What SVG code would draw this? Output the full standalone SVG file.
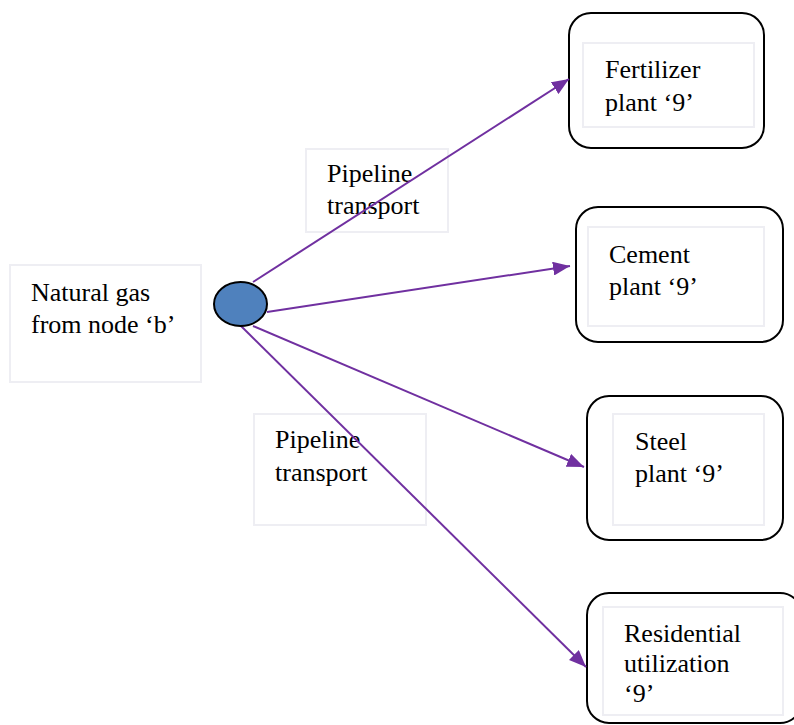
<svg xmlns="http://www.w3.org/2000/svg" width="794" height="725" viewBox="0 0 794 725">
  <style>
    .label { font-family: "Liberation Serif", "Times New Roman", serif; font-size: 26px; fill: #000; }
    .plain { fill: #fff; stroke: #eeeef3; stroke-width: 2; }
    .outer { fill: #fff; stroke: #000; stroke-width: 2; }
    .flow { stroke: #7030a0; stroke-width: 2; fill: none; marker-end: url(#head); }
  </style>
  <defs>
    <marker id="head" markerUnits="userSpaceOnUse" markerWidth="18" markerHeight="14" viewBox="0 0 18 14" refX="17" refY="7" orient="auto">
      <path d="M0,0 L17,7 L0,14 Z" fill="#7030a0"/>
    </marker>
  </defs>
  <rect width="794" height="725" fill="#fff"/>

  <!-- source label -->
  <g id="source">
    <rect class="plain" x="10" y="265" width="191" height="117"/>
    <text class="label" x="31" y="301">Natural gas</text>
    <text class="label" x="31" y="333">from node ‘b’</text>
  </g>

  <!-- pipeline labels -->
  <g id="pipeline-upper">
    <rect class="plain" x="306" y="149" width="142" height="83"/>
    <text class="label" x="327" y="182">Pipeline</text>
    <text class="label" x="327" y="214">transport</text>
  </g>
  <g id="pipeline-lower">
    <rect class="plain" x="254" y="414" width="172" height="111"/>
    <text class="label" x="275" y="448">Pipeline</text>
    <text class="label" x="275" y="481">transport</text>
  </g>

  <!-- consumers -->
  <g id="fertilizer">
    <rect class="outer" x="569" y="13" width="195" height="135" rx="22"/>
    <rect class="plain" x="583" y="43" width="171" height="84"/>
    <text class="label" x="605" y="78">Fertilizer</text>
    <text class="label" x="605" y="111">plant ‘9’</text>
  </g>
  <g id="cement">
    <rect class="outer" x="576" y="207" width="207" height="135" rx="22"/>
    <rect class="plain" x="588" y="227" width="176" height="99"/>
    <text class="label" x="609" y="263">Cement</text>
    <text class="label" x="609" y="295">plant  ‘9’</text>
  </g>
  <g id="steel">
    <rect class="outer" x="587" y="396" width="196" height="144" rx="22"/>
    <rect class="plain" x="613" y="414" width="151" height="111"/>
    <text class="label" x="635" y="450">Steel</text>
    <text class="label" x="635" y="482">plant ‘9’</text>
  </g>
  <g id="residential">
    <rect class="outer" x="587" y="593" width="215" height="130" rx="22"/>
    <rect class="plain" x="603" y="607" width="180" height="108"/>
    <text class="label" x="624" y="642">Residential</text>
    <text class="label" x="624" y="672">utilization</text>
    <text class="label" x="624" y="702">‘9’</text>
  </g>

  <!-- connectors -->
  <g id="connectors">
    <line class="flow" x1="253" y1="282" x2="569" y2="79"/>
    <line class="flow" x1="267" y1="312" x2="570" y2="266"/>
    <line class="flow" x1="253" y1="326" x2="584" y2="467"/>
    <line class="flow" x1="240" y1="325" x2="586" y2="667"/>
  </g>

  <!-- hub -->
  <g id="hub">
    <ellipse cx="240.5" cy="304" rx="26.5" ry="22" fill="#4f81bd" stroke="#000" stroke-width="2"/>
  </g>
</svg>
